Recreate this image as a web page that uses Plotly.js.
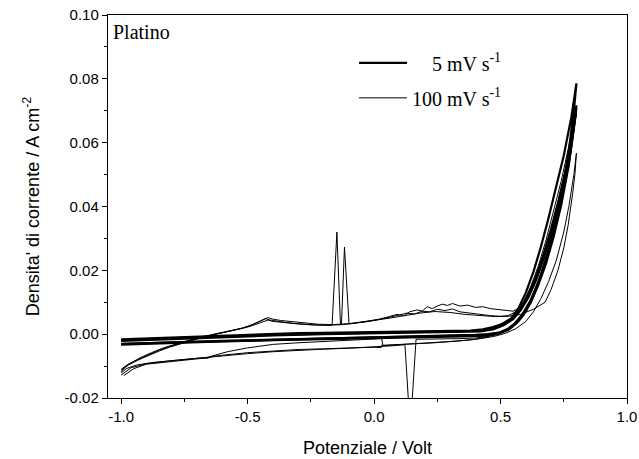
<!DOCTYPE html>
<html>
<head>
<meta charset="utf-8">
<script src="https://cdn.plot.ly/plotly-3.0.1.min.js"></script>
<style>html,body{margin:0;padding:0;background:#fff;}#chart{width:639px;height:459px;}</style>
</head>
<body>
<div id="chart"></div>
<script>
// ---------- labels ----------
const slowLabel = '\u00a0\u00a0\u00a0\u00a05 mV s<sup>-1</sup>';
const fastLabel = '100 mV s<sup>-1</sup>';
const panelLabel = 'Platino';
const xTitle = 'Potenziale / Volt';
const yTitle = "Densita' di corrente / A cm<sup>-2</sup>";
const xTickVals = [-1.0, -0.5, 0.0, 0.5, 1.0];
const xTickText = ['-1.0', '-0.5', '0.0', '0.5', '1.0'];
const yTickVals = [-0.02, 0.00, 0.02, 0.04, 0.06, 0.08, 0.10];
const yTickText = ['-0.02', '0.00', '0.02', '0.04', '0.06', '0.08', '0.10'];

// ---------- 5 mV/s, cycle 1 ----------
const slow1FwdV = [-1.0, -0.9, -0.8, -0.7, -0.6, -0.5, -0.4, -0.3, -0.2, -0.1, 0.0, 0.1, 0.2, 0.3, 0.38, 0.43, 0.47, 0.50, 0.54, 0.57, 0.60, 0.63, 0.66, 0.69, 0.72, 0.75, 0.78, 0.80];
const slow1FwdJ = [-0.0016, -0.0013, -0.0010, -0.0007, -0.0004, -0.0001, 0.0001, 0.0003, 0.0004, 0.0005, 0.0006, 0.0007, 0.0008, 0.0009, 0.0011, 0.0015, 0.0022, 0.0030, 0.0048, 0.0080, 0.0130, 0.0195, 0.0275, 0.0365, 0.0460, 0.0560, 0.0680, 0.0786];
const slow1RevV = [0.79, 0.77, 0.75, 0.72, 0.69, 0.66, 0.63, 0.60, 0.57, 0.54, 0.50, 0.45, 0.40, 0.3, 0.2, 0.1, 0.0, -0.2, -0.4, -0.6, -0.8, -1.0];
const slow1RevJ = [0.0700, 0.0575, 0.0480, 0.0360, 0.0265, 0.0185, 0.0120, 0.0072, 0.0040, 0.0020, 0.0006, 0.0000, -0.0002, -0.0004, -0.0006, -0.0008, -0.0009, -0.0012, -0.0016, -0.0020, -0.0025, -0.0030];

// ---------- 5 mV/s, cycle 2 ----------
const slow2FwdV = [-1.0, -0.8, -0.6, -0.4, -0.2, 0.0, 0.2, 0.35, 0.42, 0.47, 0.51, 0.55, 0.58, 0.61, 0.64, 0.67, 0.70, 0.73, 0.76, 0.78, 0.80];
const slow2FwdJ = [-0.0019, -0.0013, -0.0007, -0.0002, 0.0002, 0.0004, 0.0006, 0.0008, 0.0010, 0.0017, 0.0030, 0.0052, 0.0082, 0.0125, 0.0180, 0.0250, 0.0330, 0.0420, 0.0520, 0.0610, 0.0717];
const slow2RevV = [0.79, 0.77, 0.74, 0.71, 0.68, 0.65, 0.62, 0.59, 0.56, 0.53, 0.49, 0.44, 0.35, 0.2, 0.0, -0.2, -0.4, -0.6, -0.8, -1.0];
const slow2RevJ = [0.0650, 0.0540, 0.0420, 0.0320, 0.0235, 0.0165, 0.0108, 0.0066, 0.0036, 0.0016, 0.0003, -0.0003, -0.0005, -0.0007, -0.0010, -0.0013, -0.0017, -0.0021, -0.0026, -0.0031];

// ---------- 5 mV/s, cycle 3 ----------
const slow3FwdV = [-1.0, -0.8, -0.6, -0.4, -0.2, 0.0, 0.2, 0.35, 0.42, 0.47, 0.51, 0.55, 0.58, 0.61, 0.64, 0.67, 0.70, 0.73, 0.76, 0.78, 0.80];
const slow3FwdJ = [-0.0021, -0.0015, -0.0009, -0.0004, 0.0000, 0.0003, 0.0005, 0.0007, 0.0009, 0.0015, 0.0027, 0.0047, 0.0075, 0.0115, 0.0168, 0.0235, 0.0312, 0.0400, 0.0505, 0.0595, 0.0710];
const slow3RevV = [0.79, 0.77, 0.74, 0.71, 0.68, 0.65, 0.62, 0.59, 0.56, 0.53, 0.49, 0.44, 0.35, 0.2, 0.0, -0.2, -0.4, -0.6, -0.8, -1.0];
const slow3RevJ = [0.0640, 0.0530, 0.0405, 0.0305, 0.0222, 0.0155, 0.0100, 0.0060, 0.0032, 0.0013, 0.0001, -0.0005, -0.0007, -0.0009, -0.0012, -0.0015, -0.0019, -0.0023, -0.0028, -0.0033];

// ---------- 100 mV/s, cycle 1 (anodic spikes) ----------
const fast1FwdV = [-1.0, -0.98, -0.95, -0.92, -0.88, -0.84, -0.80, -0.76, -0.72, -0.68, -0.64, -0.60, -0.56, -0.52, -0.48, -0.45, -0.43, -0.41, -0.39, -0.36, -0.32, -0.28, -0.24, -0.20, -0.166, -0.147, -0.133, -0.129, -0.117, -0.099, -0.06, -0.02, 0.02, 0.06, 0.10, 0.13, 0.16, 0.19, 0.22, 0.25, 0.28, 0.31, 0.34, 0.38, 0.42, 0.46, 0.50, 0.53, 0.56, 0.59, 0.62, 0.65, 0.68, 0.71, 0.74, 0.77, 0.80];
const fast1FwdJ = [-0.0118, -0.0100, -0.0085, -0.0072, -0.0058, -0.0045, -0.0035, -0.0025, -0.0016, -0.0008, -0.0001, 0.0006, 0.0012, 0.0019, 0.0030, 0.0040, 0.0049, 0.0044, 0.0041, 0.0038, 0.0034, 0.0031, 0.0029, 0.0028, 0.0028, 0.0320, 0.0030, 0.0030, 0.0273, 0.0032, 0.0035, 0.0040, 0.0046, 0.0052, 0.0060, 0.0066, 0.0063, 0.0072, 0.0070, 0.0078, 0.0074, 0.0079, 0.0070, 0.0066, 0.0061, 0.0058, 0.0056, 0.0058, 0.0070, 0.0100, 0.0150, 0.0215, 0.0295, 0.0385, 0.0480, 0.0590, 0.0705];
const fast1RevV = [0.78, 0.76, 0.73, 0.70, 0.67, 0.64, 0.61, 0.58, 0.55, 0.52, 0.48, 0.44, 0.40, 0.34, 0.28, 0.22, 0.16, 0.10, 0.05, 0.03, 0.028, 0.0, -0.05, -0.1, -0.2, -0.3, -0.4, -0.5, -0.6, -0.64, -0.66, -0.68, -0.72, -0.8, -0.88, -0.94, -0.98, -1.0];
const fast1RevJ = [0.0600, 0.0500, 0.0385, 0.0290, 0.0210, 0.0145, 0.0095, 0.0058, 0.0032, 0.0013, -0.0002, -0.0010, -0.0016, -0.0021, -0.0025, -0.0028, -0.0030, -0.0032, -0.0034, -0.0035, -0.0042, -0.0041, -0.0042, -0.0044, -0.0046, -0.0048, -0.0052, -0.0058, -0.0066, -0.0070, -0.0076, -0.0074, -0.0077, -0.0082, -0.0089, -0.0097, -0.0108, -0.0122];

// ---------- 100 mV/s, cycle 2 (cathodic spike) ----------
const fast2FwdV = [-1.0, -0.97, -0.93, -0.89, -0.85, -0.81, -0.77, -0.73, -0.69, -0.65, -0.61, -0.57, -0.53, -0.49, -0.46, -0.44, -0.42, -0.40, -0.37, -0.33, -0.28, -0.22, -0.16, -0.10, -0.04, 0.02, 0.06, 0.09, 0.12, 0.14, 0.17, 0.19, 0.21, 0.23, 0.25, 0.27, 0.29, 0.31, 0.34, 0.37, 0.40, 0.43, 0.46, 0.49, 0.52, 0.55, 0.58, 0.61, 0.64, 0.67, 0.70, 0.73, 0.76, 0.78, 0.80];
const fast2FwdJ = [-0.0110, -0.0093, -0.0078, -0.0063, -0.0050, -0.0039, -0.0029, -0.0020, -0.0011, -0.0004, 0.0003, 0.0010, 0.0017, 0.0027, 0.0036, 0.0044, 0.0052, 0.0047, 0.0043, 0.0040, 0.0035, 0.0031, 0.0030, 0.0033, 0.0039, 0.0047, 0.0055, 0.0062, 0.0058, 0.0070, 0.0076, 0.0072, 0.0086, 0.0080, 0.0088, 0.0094, 0.0090, 0.0096, 0.0088, 0.0091, 0.0084, 0.0086, 0.0080, 0.0078, 0.0074, 0.0072, 0.0085, 0.0120, 0.0175, 0.0245, 0.0330, 0.0425, 0.0530, 0.0610, 0.0690];
const fast2RevV = [0.78, 0.75, 0.72, 0.69, 0.66, 0.63, 0.60, 0.57, 0.54, 0.50, 0.45, 0.40, 0.34, 0.28, 0.22, 0.166, 0.143, 0.122, 0.08, 0.04, 0.0, -0.1, -0.2, -0.3, -0.4, -0.5, -0.6, -0.7, -0.8, -0.9, -0.96, -1.0];
const fast2RevJ = [0.0575, 0.0445, 0.0345, 0.0255, 0.0180, 0.0120, 0.0075, 0.0042, 0.0020, 0.0003, -0.0007, -0.0012, -0.0014, -0.0015, -0.0016, -0.0016, -0.0300, -0.0033, -0.0036, -0.0038, -0.0040, -0.0044, -0.0047, -0.0050, -0.0055, -0.0061, -0.0068, -0.0076, -0.0083, -0.0093, -0.0105, -0.0128];

// ---------- 100 mV/s, cycle 3 ----------
const fast3FwdV = [-1.0, -0.97, -0.93, -0.89, -0.85, -0.81, -0.77, -0.73, -0.69, -0.65, -0.6, -0.55, -0.5, -0.47, -0.44, -0.42, -0.4, -0.36, -0.3, -0.24, -0.18, -0.12, -0.06, 0.0, 0.06, 0.12, 0.18, 0.24, 0.3, 0.36, 0.42, 0.48, 0.53, 0.58, 0.63, 0.676, 0.70, 0.727, 0.75, 0.767, 0.785, 0.794, 0.80];
const fast3FwdJ = [-0.0113, -0.0096, -0.0080, -0.0066, -0.0053, -0.0041, -0.0031, -0.0022, -0.0013, -0.0005, 0.0004, 0.0012, 0.0022, 0.0030, 0.0038, 0.0044, 0.0040, 0.0036, 0.0032, 0.0029, 0.0028, 0.0030, 0.0036, 0.0042, 0.0050, 0.0058, 0.0066, 0.0071, 0.0068, 0.0062, 0.0058, 0.0055, 0.0056, 0.0062, 0.0078, 0.0100, 0.0140, 0.0200, 0.0270, 0.0340, 0.0440, 0.0500, 0.0567];
const fast3RevV = [0.79, 0.77, 0.75, 0.72, 0.69, 0.66, 0.63, 0.60, 0.56, 0.52, 0.48, 0.43, 0.38, 0.30, 0.22, 0.14, 0.08, 0.035, 0.03, 0.0, -0.1, -0.2, -0.3, -0.4, -0.5, -0.58, -0.63, -0.67, -0.72, -0.8, -0.9, -0.95, -0.99];
const fast3RevJ = [0.0500, 0.0400, 0.0320, 0.0230, 0.0165, 0.0112, 0.0070, 0.0040, 0.0017, 0.0003, -0.0006, -0.0013, -0.0018, -0.0023, -0.0027, -0.0030, -0.0033, -0.0036, -0.0014, -0.0015, -0.0019, -0.0023, -0.0027, -0.0032, -0.0043, -0.0055, -0.0066, -0.0075, -0.0079, -0.0085, -0.0094, -0.0108, -0.0130];

// ---------- build traces ----------
const slowCycles = [[slow1FwdV, slow1FwdJ, slow1RevV, slow1RevJ], [slow2FwdV, slow2FwdJ, slow2RevV, slow2RevJ], [slow3FwdV, slow3FwdJ, slow3RevV, slow3RevJ]];
const fastCycles = [[fast1FwdV, fast1FwdJ, fast1RevV, fast1RevJ], [fast2FwdV, fast2FwdJ, fast2RevV, fast2RevJ], [fast3FwdV, fast3FwdJ, fast3RevV, fast3RevJ]];

const traces = [];
slowCycles.forEach((c, i) => {
  traces.push({
    x: c[0].concat(c[2]), y: c[1].concat(c[3]),
    type: 'scatter', mode: 'lines', name: slowLabel,
    legendgroup: 'slow', showlegend: i === 0,
    line: {color: '#000', width: 2.2}, hoverinfo: 'skip'
  });
});
fastCycles.forEach((c, i) => {
  traces.push({
    x: c[0].concat(c[2]), y: c[1].concat(c[3]),
    type: 'scatter', mode: 'lines', name: fastLabel,
    legendgroup: 'fast', showlegend: i === 0,
    line: {color: '#000', width: 1}, hoverinfo: 'skip'
  });
});

const sans = 'Liberation Sans, Arial, sans-serif';
const serif = 'Liberation Serif, Times New Roman, serif';

const layout = {
  width: 639, height: 459,
  margin: {l: 108, r: 12, t: 15, b: 61},
  paper_bgcolor: '#fff', plot_bgcolor: '#fff',
  font: {family: sans, color: '#000', size: 15},
  xaxis: {
    range: [-1.052, 1.0], tickmode: 'array', tickvals: xTickVals, ticktext: xTickText,
    ticks: 'outside', ticklen: 5, tickwidth: 1, tickcolor: '#000',
    minor: {dtick: 0.25, tick0: 0, ticks: 'outside', ticklen: 3, tickcolor: '#000', showgrid: false},
    showline: true, linecolor: '#000', linewidth: 1.2, mirror: true,
    showgrid: false, zeroline: false,
    tickfont: {family: sans, size: 15, color: '#000'},
    title: {text: xTitle, font: {family: sans, size: 18, color: '#000'}, standoff: 17}
  },
  yaxis: {
    range: [-0.02, 0.10], tickmode: 'array', tickvals: yTickVals, ticktext: yTickText,
    ticks: 'outside', ticklen: 5, tickwidth: 1, tickcolor: '#000',
    minor: {dtick: 0.01, tick0: 0, ticks: 'outside', ticklen: 3, tickcolor: '#000', showgrid: false},
    showline: true, linecolor: '#000', linewidth: 1.2, mirror: true,
    showgrid: false, zeroline: false,
    tickfont: {family: sans, size: 15, color: '#000'},
    title: {text: yTitle, font: {family: sans, size: 18, color: '#000'}, standoff: 20}
  },
  legend: {
    x: 0.474, y: 0.926, xanchor: 'left', yanchor: 'top',
    bgcolor: 'rgba(0,0,0,0)', borderwidth: 0,
    font: {family: serif, size: 20, color: '#000'},
    itemwidth: 48, tracegroupgap: 6
  },
  annotations: [{
    text: panelLabel, xref: 'paper', yref: 'paper', x: 0.006, y: 0.955,
    xanchor: 'left', yanchor: 'middle', showarrow: false,
    font: {family: serif, size: 20, color: '#000'}
  }],
  showlegend: true
};

Plotly.newPlot('chart', traces, layout, {displayModeBar: false, staticPlot: true});
</script>
</body>
</html>
